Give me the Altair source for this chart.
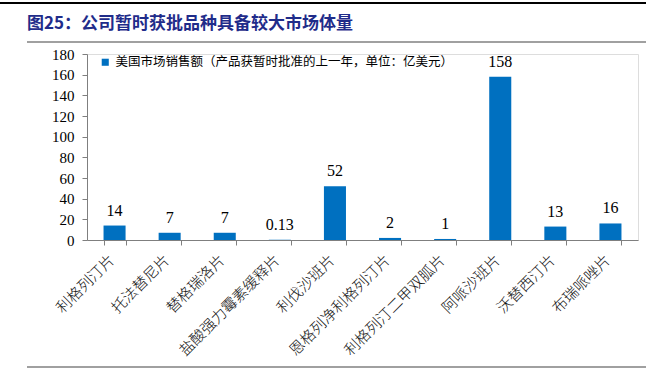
import altair as alt
import pandas as pd

categories = ["利格列汀片", "托法替尼片", "替格瑞洛片", "盐酸强力霉素缓释片", "利伐沙班片",
              "恩格列净利格列汀片", "利格列汀二甲双胍片", "阿哌沙班片", "沃替西汀片", "布瑞哌唑片"]
values = [14, 7, 7, 0.13, 52, 2, 1, 158, 13, 16]
value_labels = ["14", "7", "7", "0.13", "52", "2", "1", "158", "13", "16"]
series_name = "美国市场销售额（产品获暂时批准的上一年，单位：亿美元）"
title_text = "图25：公司暂时获批品种具备较大市场体量"
y_ticks = [0, 20, 40, 60, 80, 100, 120, 140, 160, 180]

df = pd.DataFrame({"cat": categories, "val": values, "lab": value_labels,
                   "series": [series_name] * len(categories)})

CJK = "Noto Sans CJK SC"
SERIF = "Liberation Serif"
BLUE = "#0070C0"

x_enc = alt.X("cat:N", sort=categories,
              scale=alt.Scale(paddingInner=0.6, paddingOuter=0.3),
              axis=alt.Axis(title=None, labelAngle=-45, labelAlign="right", labelBaseline="middle",
                            labelFont=CJK, labelFontSize=15, labelFontWeight=300,
                            labelColor="#111111",
                            labelPadding=12, labelOffset=-3, tickBand="extent", tickSize=5,
                            tickColor="#7f7f7f", domainColor="#7f7f7f", labelLimit=300,
                            labelOverlap=False))
y_enc = alt.Y("val:Q", scale=alt.Scale(domain=[0, 180], nice=False),
              axis=alt.Axis(title=None, values=y_ticks, grid=False, labelFont=SERIF,
                            labelFontSize=15, labelColor="#000000", tickSize=5, labelPadding=8,
                            tickColor="#7f7f7f", domainColor="#7f7f7f", labelOverlap=False))

bars = alt.Chart(df).mark_bar(color=BLUE).encode(
    x=x_enc, y=y_enc,
    color=alt.Color("series:N", scale=alt.Scale(range=[BLUE]),
                    legend=alt.Legend(title=None, orient="none", legendX=12, legendY=2,
                                      symbolType="square", symbolSize=50, labelFont=CJK,
                                      labelFontSize=12.5, labelColor="#000000", labelLimit=500,
                                      symbolStrokeWidth=0)))

labels = alt.Chart(df).mark_text(font=SERIF, fontSize=16, baseline="bottom", dy=-7,
                                 color="#000000").encode(
    x=x_enc, y=y_enc, text="lab:N")

deco = pd.DataFrame({"t": [title_text]})
title = alt.Chart(deco).mark_text(font=CJK, fontSize=17, fontWeight="bold", color="#1F2C8A",
                                  align="left", baseline="middle").encode(
    x=alt.value(-60), y=alt.value(-30), text="t:N")
line_top = alt.Chart(deco).mark_rule(color="#000000", strokeWidth=2).encode(
    x=alt.value(-87), x2=alt.value(559), y=alt.value(-51))
line_title = alt.Chart(deco).mark_rule(color="#a0a0a0", strokeWidth=2).encode(
    x=alt.value(-60), x2=alt.value(559), y=alt.value(-12))
line_bottom = alt.Chart(deco).mark_rule(color="#a0a0a0", strokeWidth=2).encode(
    x=alt.value(-60), x2=alt.value(559), y=alt.value(313))

chart = alt.layer(bars, labels, title, line_top, line_title, line_bottom).properties(
    width=551, height=186,
    autosize=alt.AutoSizeParams(type="none"),
    padding={"left": 87, "top": 54, "right": 31, "bottom": 136},
).configure_view(stroke=None).configure(background="#ffffff")

chart.save("out.html", embed_options={"renderer": "svg", "actions": False})
